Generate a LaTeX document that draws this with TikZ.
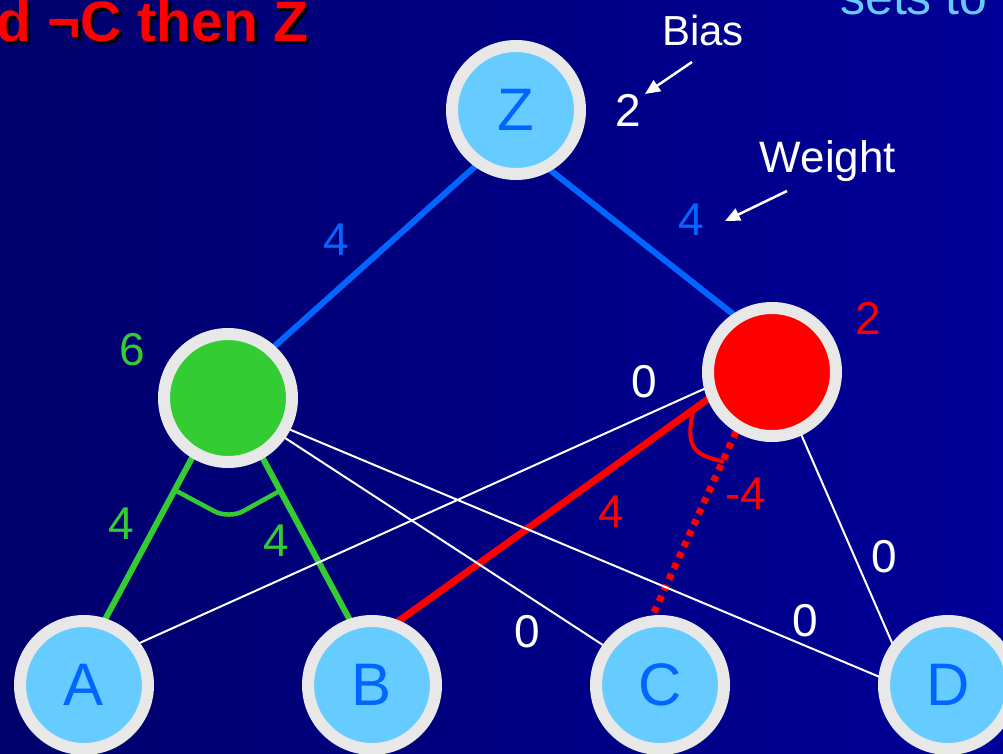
\documentclass[tikz,border=0pt]{standalone}
\usepackage{fontspec}
\setmainfont{Liberation Sans}
\usetikzlibrary{arrows.meta,calc}
\definecolor{bgleft}{RGB}{0,0,108}
\definecolor{bgright}{RGB}{0,0,152}
\definecolor{ring}{RGB}{232,232,232}
\definecolor{skyblue}{RGB}{102,204,255}
\definecolor{letterblue}{RGB}{0,102,255}
\definecolor{leafgreen}{RGB}{51,204,51}
\pgfdeclarelayer{back}
\pgfdeclarelayer{links}
\pgfsetlayers{back,links,main}

\begin{document}
\begin{tikzpicture}[x=1pt,y=-1pt,
  unit/.style={circle,draw=ring,line width=12pt,minimum size=128pt,inner sep=0pt,
    font=\fontsize{60}{60}\selectfont,text=letterblue},
  input/.style={unit,fill=skyblue},
  num/.style={font=\fontsize{46}{46}\selectfont,inner sep=0pt},
  note/.style={font=\fontsize{42}{42}\selectfont,text=white,inner sep=0pt},
  heavy/.style={line width=6pt,shorten <=-6pt,shorten >=-6pt},
  thin/.style={white,line width=2pt,shorten <=-4pt,shorten >=-4pt},
  brace/.style={line width=4pt,line cap=round},
  pointer/.style={-{Triangle[length=15pt,width=13pt]},white,line width=2.5pt}]

\begin{pgfonlayer}{back}
\shade[left color=bgleft,right color=bgright] (0,0) rectangle (1003,754);
\end{pgfonlayer}
\useasboundingbox (0,0) rectangle (1003,754);
\clip (0,0) rectangle (1003,754);

% units
\node[input] (z) at (516,110) {Z};
\node[unit,fill=leafgreen] (g) at (228,398) {};
\node[unit,fill=red] (r) at (772,372) {};
\node[input] (a) at (84,685) {A};
\node[input] (b) at (372,685) {B};
\node[input] (c) at (660,685) {C};
\node[input] (d) at (948,685) {D};

% connections
\begin{pgfonlayer}{links}
\draw[heavy,letterblue] (z.234) -- (g.48);
\draw[heavy,letterblue] (z.300) -- (r.124);
\draw[heavy,leafgreen] (g.239) -- (a.72);
\draw[heavy,leafgreen] (g.300) -- (b.109);
\draw[heavy,red,line width=7pt] (r.203) -- (b.67);
\draw[red,line width=7pt,dash pattern=on 6pt off 6pt] (r.239) -- (c.96);
\draw[thin] (g.325) -- (c.145);
\draw[thin] (g.333) -- (d.173);
\draw[thin] (r.194) -- (a.37);
\draw[thin] (r.295) -- (d.143);
\end{pgfonlayer}

\draw[brace,leafgreen,line width=4.5pt,rounded corners=16pt] ($(g.239)!0.2!(a.72)$) -- (229,519) -- ($(g.300)!0.2!(b.109)$);
\draw[brace,red] ($(r.203)!0.045!(b.67)$) .. controls (684,448) and (695,455) .. ($(r.239)!0.16!(c.96)$);

% weights and biases
\node[num,text=letterblue] (wzg) at (336,240) {4};
\node[num,text=letterblue] (wzr) at (691,220) {4};
\node[num,text=leafgreen] (bg) at (132,350) {6};
\node[num,text=red] (br) at (868,318) {2};
\node[num,text=white] (bz) at (628,110) {2};
\node[num,text=white] (wra) at (644,382) {0};
\node[num,text=red] (wrb) at (611,512) {4};
\node[num,text=red] (wrc) at (746,494) {-4};
\node[num,text=leafgreen] (wga) at (121,524) {4};
\node[num,text=leafgreen] (wgb) at (276,541) {4};
\node[num,text=white] (wrd) at (884,557) {0};
\node[num,text=white] (wgc) at (527,632) {0};
\node[num,text=white] (wgd) at (805,621) {0};

\node[note,anchor=base] (bias) at (703,46) {Bias};
\node[note,anchor=base,font=\fontsize{44}{44}\selectfont] (weight) at (828,173) {Weight};
\coordinate (biasfrom) at (692,62);
\coordinate (biasto) at (645,94);
\draw[pointer] (biasfrom) -- (biasto);
\coordinate (weightfrom) at (787,191);
\coordinate (weightto) at (725,221);
\draw[pointer] (weightfrom) -- (weightto);

\node[font=\fontsize{57}{57}\selectfont\bfseries,text=black,anchor=base east,inner sep=0pt] (shadow) at (312,45) {d ¬C then Z};
\node[font=\fontsize{57}{57}\selectfont\bfseries,text=red,anchor=base east,inner sep=0pt] (title) at (309,42) {d ¬C then Z};
\node[font=\fontsize{50}{50}\selectfont,text=skyblue,anchor=base west,inner sep=0pt] (sets) at (840,15) {sets to};
\end{tikzpicture}
\end{document}
